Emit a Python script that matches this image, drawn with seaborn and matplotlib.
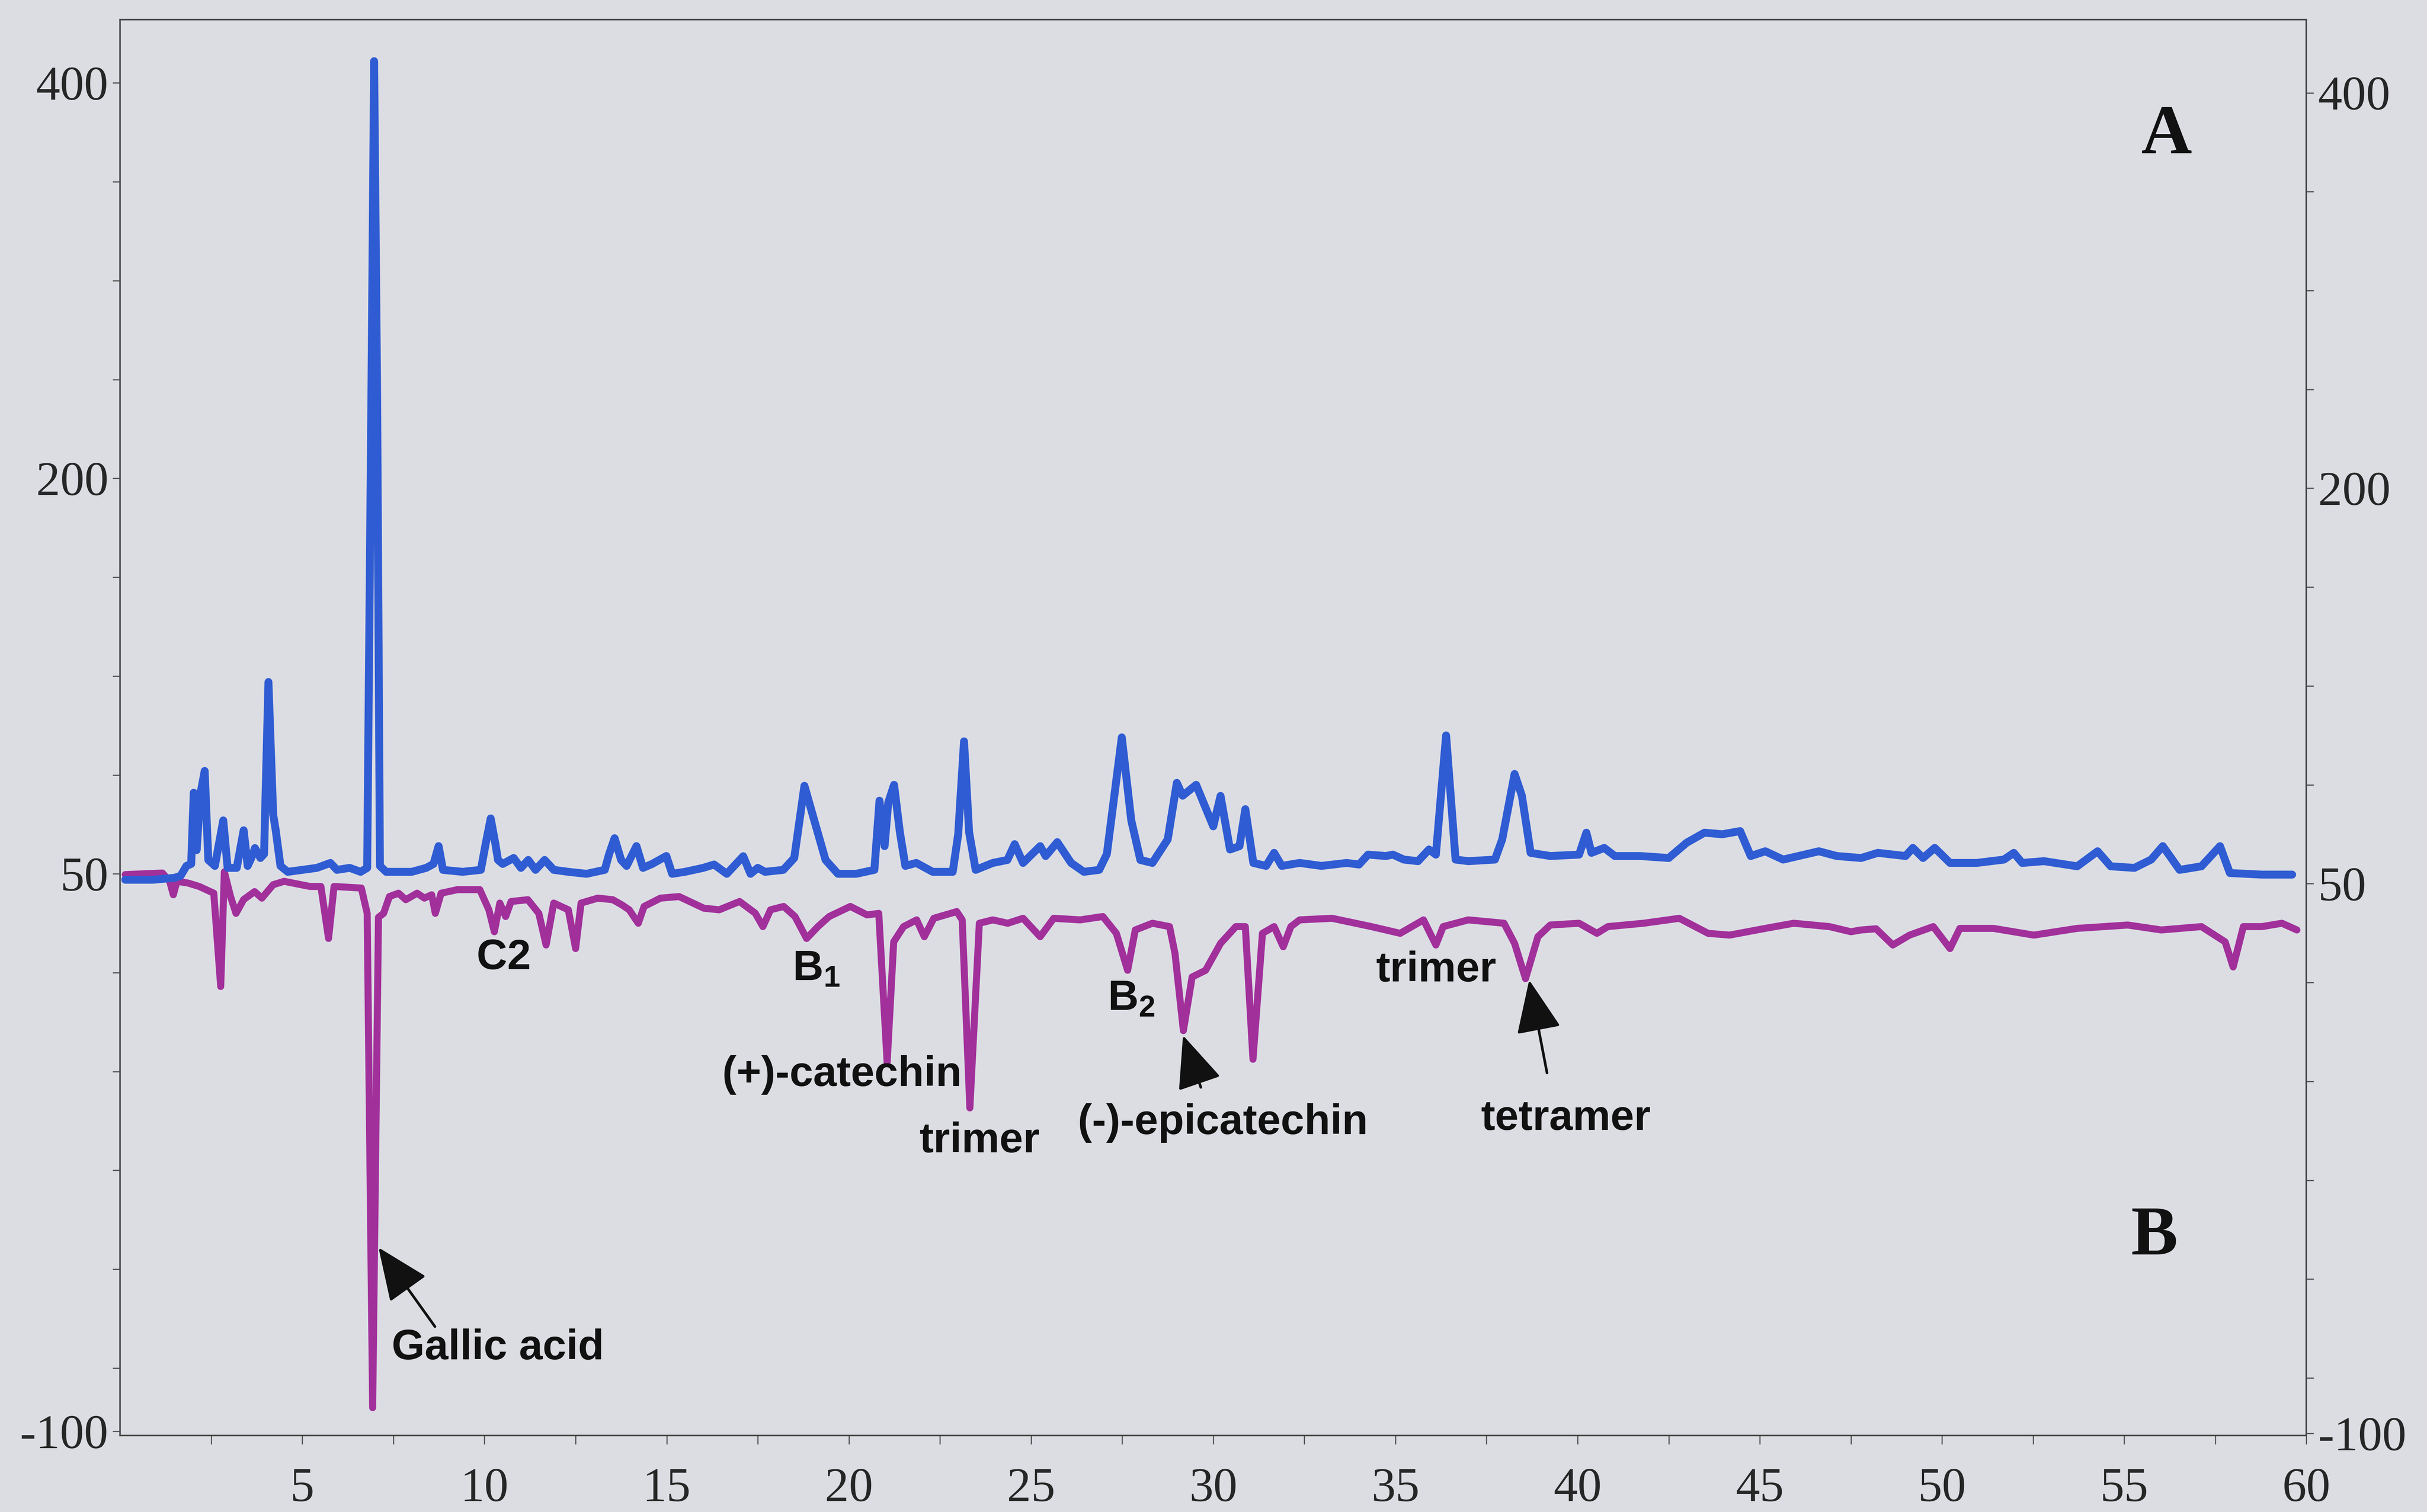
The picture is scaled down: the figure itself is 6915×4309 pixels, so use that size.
import numpy as np
import pandas as pd
import seaborn as sns
import matplotlib.pyplot as plt

# chromatogram A (upper, blue) - retention time (min) and signal
time_a = [0.14, 0.9, 1.5, 1.66, 1.82, 1.95, 2.02, 2.1, 2.2, 2.32, 2.42, 2.6, 2.83, 2.95,
          3.2, 3.39, 3.5, 3.6, 3.7, 3.85, 3.95, 4.07, 4.2, 4.27, 4.4, 4.6, 5.0, 5.4,
          5.77, 5.95, 6.3, 6.6, 6.78, 6.9, 6.97, 7.05, 7.13, 7.3, 8.0, 8.4, 8.6, 8.74,
          8.86, 9.4, 9.9, 10.03, 10.17, 10.3, 10.37, 10.5, 10.8, 11.0, 11.2, 11.4, 11.65,
          11.9, 12.3, 12.8, 13.3, 13.42, 13.57, 13.75, 13.9, 14.17, 14.35, 14.6, 14.99,
          15.15, 15.5, 16.0, 16.3, 16.65, 17.1, 17.3, 17.5, 17.7, 18.2, 18.5, 18.78,
          19.05, 19.36, 19.7, 20.2, 20.7, 20.84, 20.98, 21.08, 21.24, 21.4, 21.55, 21.85,
          22.3, 22.85, 23.0, 23.16, 23.3, 23.48, 23.95, 24.35, 24.55, 24.78, 25.25, 25.4,
          25.72, 26.1, 26.45, 26.87, 27.08, 27.49, 27.75, 28.0, 28.33, 28.75, 29.0, 29.16,
          29.53, 30.0, 30.2, 30.46, 30.72, 30.88, 31.1, 31.45, 31.67, 31.88, 32.37, 32.97,
          33.66, 34.0, 34.25, 34.74, 34.93, 35.23, 35.62, 35.92, 36.11, 36.39, 36.65, 37.0,
          37.73, 37.93, 38.27, 38.47, 38.71, 39.25, 40.04, 40.24, 40.38, 40.73, 41.02,
          41.71, 42.5, 42.99, 43.48, 43.97, 44.46, 44.75, 45.15, 45.64, 46.62, 47.11,
          47.78, 48.24, 49.0, 49.2, 49.48, 49.8, 50.22, 50.95, 51.7, 51.97, 52.2, 52.8,
          53.71, 54.27, 54.63, 55.28, 55.74, 56.06, 56.52, 57.12, 57.63, 57.9, 58.78, 59.61]
signal_a = [-3, -3, -2, -1, 4, 5, 41, 12, 40, 52, 7, 4, 27, 3,
            3, 22, 4, 8, 13, 8, 10, 97, 30, 22, 4, 1, 2, 3,
            5.5, 2, 3, 1, 3, 250, 411, 250, 4, 1, 1, 3, 5, 14,
            2, 1, 2, 15, 28, 15, 7, 5, 8, 3, 7, 2, 7,
            2, 1, 0, 2, 10, 18, 7, 4, 14, 3, 5, 9,
            0, 1, 3, 4.7, 0, 8.9, 0, 3, 1, 2, 8, 44.5,
            27, 7, 0, 0, 2, 37, 14, 36, 45, 21, 4, 5.5,
            1, 1, 20, 67, 21, 2, 5.5, 7, 15, 5.5, 14, 9,
            16, 5.5, 1, 2, 10, 69, 27, 7, 5.5, 17.4, 46, 39.5,
            45, 24, 39.4, 12.3, 14, 32.7, 5.5, 4, 10.6, 4, 5.5, 4,
            5.5, 4.7, 9.7, 9, 9.7, 7.2, 6.4, 12.3, 9.7, 70, 7.2, 6.4,
            7.2, 17.4, 50.5, 39.5, 10.6, 9, 9.7, 20.8, 10.6, 13.1, 9,
            9, 8, 15.7, 20.8, 20, 21.6, 9, 11.4, 7.2, 11.4, 9,
            8, 10.6, 9, 13.1, 8, 13.1, 5.5, 5.5, 7.2, 10.6, 5.5, 6.4,
            3.8, 11.4, 3.8, 3, 7.2, 14, 2, 3.8, 14, 0.4, -0.4, -0.4]

# chromatogram B (lower, purple, plotted inverted)
time_b = [0.14, 1.16, 1.36, 1.46, 1.56, 1.87, 2.17, 2.57, 2.76, 2.86, 3.03, 3.18, 3.39,
          3.69, 3.89, 4.2, 4.5, 5.21, 5.51, 5.72, 5.87, 6.62, 6.78, 6.93, 7.09, 7.23,
          7.39, 7.64, 7.84, 8.15, 8.35, 8.55, 8.65, 8.81, 9.26, 9.87, 10.12, 10.27, 10.42,
          10.58, 10.73, 11.19, 11.49, 11.69, 11.9, 12.3, 12.5, 12.65, 13.11, 13.52, 13.77,
          13.97, 14.22, 14.38, 14.83, 15.34, 16.02, 16.44, 17.0, 17.43, 17.64, 17.85,
          18.21, 18.52, 18.84, 19.15, 19.46, 20.04, 20.5, 20.82, 21.05, 21.23, 21.5,
          21.86, 22.07, 22.33, 22.96, 23.11, 23.32, 23.58, 23.95, 24.36, 24.78, 25.25,
          25.62, 26.35, 26.97, 27.34, 27.65, 27.86, 28.33, 28.8, 28.95, 29.18, 29.42,
          29.79, 30.2, 30.62, 30.88, 31.09, 31.35, 31.67, 31.92, 32.13, 32.37, 33.26,
          34.34, 35.13, 35.77, 36.11, 36.31, 37.0, 37.98, 38.27, 38.57, 38.91, 39.25,
          40.04, 40.53, 40.83, 41.81, 42.79, 43.58, 44.17, 45.15, 45.93, 46.91, 47.5,
          47.78, 48.19, 48.65, 49.11, 49.76, 50.22, 50.49, 51.41, 52.52, 53.71, 55.1,
          56.02, 57.12, 57.77, 57.99, 58.27, 58.78, 59.33, 59.74]
signal_b = [-0.4, 0.4, -3.8, -10.6, -3.8, -4.7, -6.4, -9.8, -57, 1, -11.5, -20, -13,
            -9, -12.3, -5.5, -3.8, -6.4, -6.4, -32.7, -6.4, -7.2, -20, -270, -22, -20,
            -11.5, -9.8, -13.1, -9.8, -12.3, -10.6, -20, -9.8, -8, -8, -18.2, -29.3, -14.8,
            -21.6, -14, -13.1, -20, -36, -14.8, -18.2, -37.8, -14.8, -12.3, -13.1, -15.7,
            -18.2, -25, -16.5, -12.3, -11.5, -17.4, -18.2, -14, -19.9, -26.7, -18.2,
            -16.5, -21.6, -32.7, -26.7, -21.6, -16.5, -20.8, -20, -95.5, -34.4, -26.7,
            -23.3, -31.8, -22.5, -19.1, -23.3, -118.4, -25, -23.3, -25, -22.5, -31.8,
            -22.5, -23.3, -21.6, -30.1, -48.8, -28.4, -25, -26.7, -40.3, -79.3, -52.2,
            -48.8, -35.2, -26.7, -26.7, -93.8, -30.1, -26.7, -36.9, -26.7, -23.3, -22.5,
            -26.7, -30.1, -23.3, -36, -26.7, -23.3, -25, -35.2, -53, -31.8, -25.9,
            -25, -30.1, -26.7, -25, -22.5, -30.1, -31, -27.6, -25, -26.7, -29.3,
            -28.4, -27.8, -36, -31, -26.7, -37.8, -27.6, -27.6, -31, -27.6, -25.9,
            -28.4, -26.7, -34.4, -47.1, -26.7, -26.7, -25, -28.4]

# axis tick labels as printed (the two overlaid panels have their own scales)
left_ticks = [-282, -250, -200, -150, -100, -50, 0, 50, 100, 150, 200, 250, 300, 350, 400]
left_labels = ['-100', '', '', '', '', '', '50', '', '', '', '200', '', '', '', '400']
right_ticks = [-283, -255, -205, -155, -105, -55, -5, 45, 95, 145, 195, 245, 295, 345, 395]
right_labels = ['-100', '', '', '', '', '', '50', '', '', '', '200', '', '', '', '400']

# peak labels: text, text position, alignment, arrow tip (None = no arrow), arrow tail
peak_labels = [
    ('Gallic acid', (7.45, -240), 'left', (7.09, -189), (8.64, -229)),
    ('C2', (10.53, -42.7), 'center', None, None),
    (r'$\mathbf{B_1}$', (19.1, -48.3), 'center', None, None),
    ('(+)-catechin', (19.81, -101.7), 'center', None, None),
    ('trimer', (23.59, -135.3), 'center', None, None),
    (r'$\mathbf{B_2}$', (27.75, -63.3), 'center', None, None),
    ('(-)-epicatechin', (30.26, -126), 'center', (29.17, -81.7), (29.66, -108)),
    ('trimer', (36.12, -48.9), 'center', None, None),
    ('tetramer', (39.68, -124), 'center', (38.67, -53.7), (39.16, -100.7)),
]

bg = '#dcdde3'
blue = '#2f5cd3'
purple = '#a1309b'

sns.set_theme(style='ticks')
plt.rcParams['font.family'] = ['Liberation Serif', 'DejaVu Serif']
plt.rcParams['mathtext.fontset'] = 'custom'
plt.rcParams['mathtext.rm'] = 'Liberation Sans'
plt.rcParams['mathtext.bf'] = 'Liberation Sans:bold'

fig = plt.figure(figsize=(6915 / 300, 4309 / 300), dpi=300, facecolor=bg)
ax = fig.add_axes([0.0495, 0.0507, 0.9008, 0.9363])
ax.set_facecolor(bg)

df_a = pd.DataFrame({'time': time_a, 'signal': signal_a})
df_b = pd.DataFrame({'time': time_b, 'signal': signal_b})
sns.lineplot(data=df_a, x='time', y='signal', ax=ax, color=blue, lw=5.4,
             estimator=None, sort=False, zorder=3, solid_joinstyle='round')
sns.lineplot(data=df_b, x='time', y='signal', ax=ax, color=purple, lw=4.8,
             estimator=None, sort=False, zorder=2, solid_joinstyle='round')

ax.set_xlim(0, 60)
ax.set_ylim(-284, 432)
ax.set_xlabel('')
ax.set_ylabel('')
ax.set_xticks(np.arange(5, 61, 5))
ax.set_xticks(np.arange(2.5, 60, 5), minor=True)
ax.tick_params(axis='x', which='both', direction='out', length=6, width=0.8,
               color='#555555', pad=16, labelsize=33)
ax.set_yticks(left_ticks)
ax.set_yticklabels(left_labels)
ax.tick_params(axis='y', direction='out', length=5, width=0.8, color='#555555',
               pad=3, labelsize=33)

ax2 = ax.twinx()
ax2.set_ylim(-284, 432)
ax2.set_yticks(right_ticks)
ax2.set_yticklabels(right_labels)
ax2.tick_params(axis='y', direction='out', length=5, width=0.8, color='#555555',
                pad=3, labelsize=33)

for a in (ax, ax2):
    for s in a.spines.values():
        s.set_visible(True)
        s.set_linewidth(1.0)
        s.set_color('#444444')

for text, pos, ha, tip, tail in peak_labels:
    ax.text(pos[0], pos[1], text, ha=ha, va='center', fontsize=29,
            fontweight='bold', family='Liberation Sans', color='#111111', zorder=5)
    if tip is not None:
        ax.annotate('', xy=tip, xytext=tail,
                    arrowprops=dict(arrowstyle='-|>,head_length=0.75,head_width=0.32',
                                    mutation_scale=42, color='#111111', lw=1.8,
                                    shrinkA=0, shrinkB=0), zorder=5)

ax.text(56.17, 373, 'A', ha='center', va='center', fontsize=48, fontweight='bold',
        family='Liberation Serif', color='#111111')
ax.text(55.83, -184, 'B', ha='center', va='center', fontsize=48, fontweight='bold',
        family='Liberation Serif', color='#111111')

fig.savefig('out.png', dpi=300, facecolor=bg)
